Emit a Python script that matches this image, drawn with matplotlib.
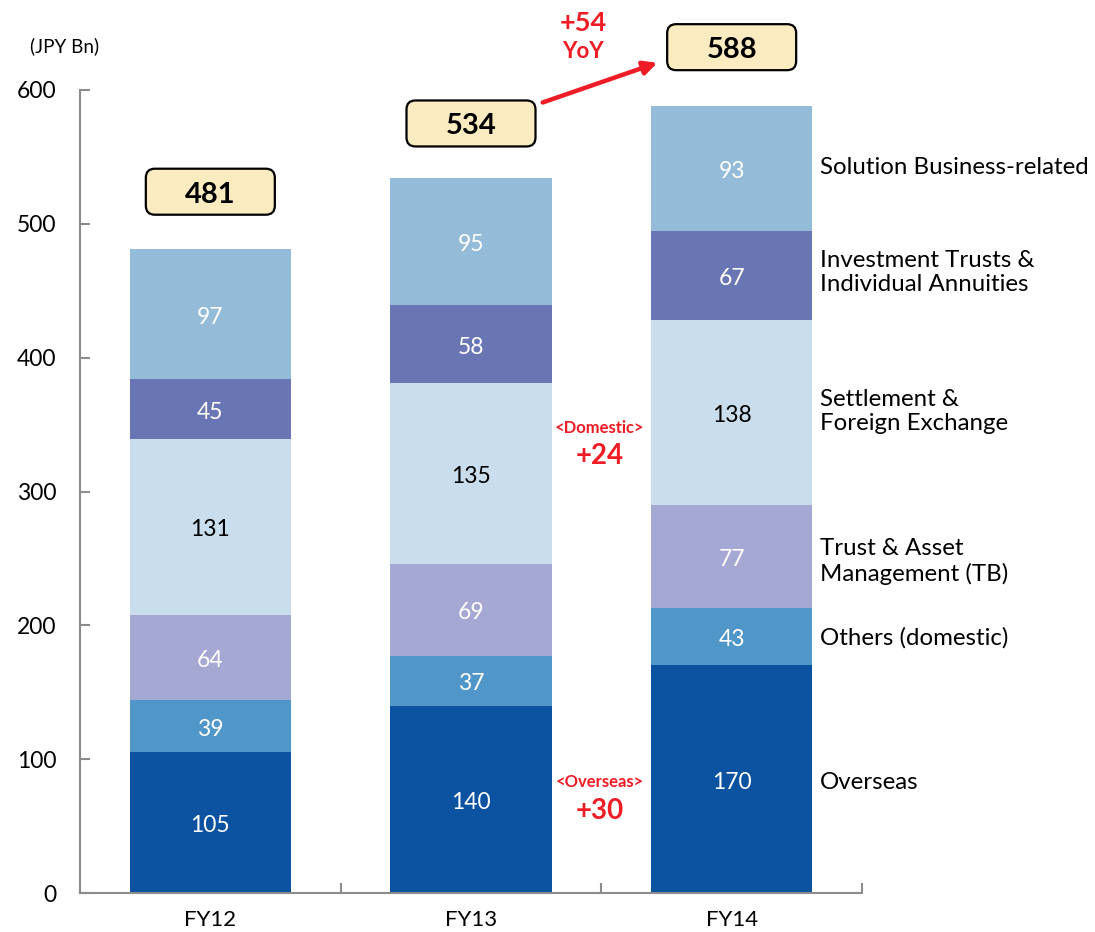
import matplotlib
matplotlib.use("Agg")
import matplotlib.pyplot as plt
from matplotlib.patches import FancyBboxPatch
import numpy as np

plt.rcParams['font.family'] = ['Lato', 'DejaVu Sans']

categories = ["FY12", "FY13", "FY14"]
overseas = [105, 140, 170]
others = [39, 37, 43]
trust = [64, 69, 77]
settlement = [131, 135, 138]
investment = [45, 58, 67]
solution = [97, 95, 93]
totals = [481, 534, 588]

series_names = ["Overseas", "Others (domestic)", "Trust & Asset\nManagement (TB)",
                "Settlement &\nForeign Exchange", "Investment Trusts &\nIndividual Annuities",
                "Solution Business-related"]
series = [overseas, others, trust, settlement, investment, solution]
colors = ["#0B52A0", "#5096C8", "#A5A8D2", "#C9DDEC", "#6A76B4", "#94BBD8"]
text_colors = ["white", "white", "white", "black", "white", "white"]

W, H = 1095, 932
fig = plt.figure(figsize=(W/100, H/100), dpi=100)
ax = fig.add_axes([80/W, 1-893/H, 782/W, 803/H])

RED = '#EE1C25'
px_x = 3.0 / 782.0          # data x per pixel
px_y = 600.0 / 803.0        # data y per pixel
dy = -3 * px_y              # small downward text nudge

x = np.arange(len(categories))
bottom = np.zeros(len(categories))
for vals, col, tc in zip(series, colors, text_colors):
    ax.bar(x, vals, 0.62, bottom=bottom, color=col, linewidth=0)
    for xi, b, v in zip(x, bottom, vals):
        ax.text(xi, b + v/2 + dy, str(v), ha='center', va='center', color=tc, fontsize=16.5)
    bottom += np.array(vals)

ax.set_xlim(-0.5, 2.5)
ax.set_ylim(0, 600)
ax.set_yticks(range(0, 601, 100))
ax.tick_params(axis='y', labelsize=16.5, length=7, width=1.5, color='#8C8C8C', direction='in', pad=17)
ax.set_xticks(x)
ax.set_xticklabels(categories, fontsize=16)
ax.tick_params(axis='x', length=0, pad=12)
ax.set_xticks([-0.5, 0.5, 1.5, 2.5], minor=True)
ax.tick_params(axis='x', which='minor', length=7, width=1.5, color='#8C8C8C', direction='in')
for s in ['top', 'right']:
    ax.spines[s].set_visible(False)
for s in ['left', 'bottom']:
    ax.spines[s].set_color('#8C8C8C')
    ax.spines[s].set_linewidth(1.5)

# total boxes (fixed size in pixels converted to data units)
bw, bh = 129 * px_x, 46 * px_y
box_y = [524, 575, 632]
for xi, t, by in zip(x, totals, box_y):
    p = FancyBboxPatch((xi - bw/2, by - bh/2), bw, bh,
                       boxstyle='round,pad=0,rounding_size=%f' % (9 * px_x),
                       mutation_aspect=px_y / px_x,
                       fc='#FAEBC0', ec='black', lw=1.6, clip_on=False, zorder=3)
    ax.add_patch(p)
    ax.text(xi, by + dy, str(t), ha='center', va='center', fontsize=21, fontweight='bold',
            color='black', clip_on=False, zorder=4)

# YoY arrow
ax.annotate('', xy=(1.725, 621), xytext=(1.265, 590), annotation_clip=False,
            arrowprops=dict(arrowstyle='-|>,head_length=0.8,head_width=0.4', color=RED, lw=3.2))
ax.text(1.43, 652 + dy, "+54", ha='center', va='center', color=RED, fontsize=19.5, fontweight='bold', clip_on=False)
ax.text(1.43, 631 + dy, "YoY", ha='center', va='center', color=RED, fontsize=16, fontweight='bold', clip_on=False)

ax.text(1.495, 350 + dy, "<Domestic>", ha='center', va='center', color=RED, fontsize=12, fontweight='bold')
ax.text(1.495, 329 + dy, "+24", ha='center', va='center', color=RED, fontsize=20, fontweight='bold')
ax.text(1.495, 85 + dy, "<Overseas>", ha='center', va='center', color=RED, fontsize=12, fontweight='bold')
ax.text(1.495, 63.5 + dy, "+30", ha='center', va='center', color=RED, fontsize=20, fontweight='bold')

label_y = [85, 193, 250, 362, 466, 544]
for name, ly in zip(series_names, label_y):
    ax.text(2.339, ly + dy, name, ha='left', va='center', fontsize=17.3, clip_on=False, linespacing=1.2)

fig.text(65/W, 1-46/H, "(JPY Bn)", ha='center', va='center', fontsize=13.5)

fig.savefig("out.png", dpi=100)
